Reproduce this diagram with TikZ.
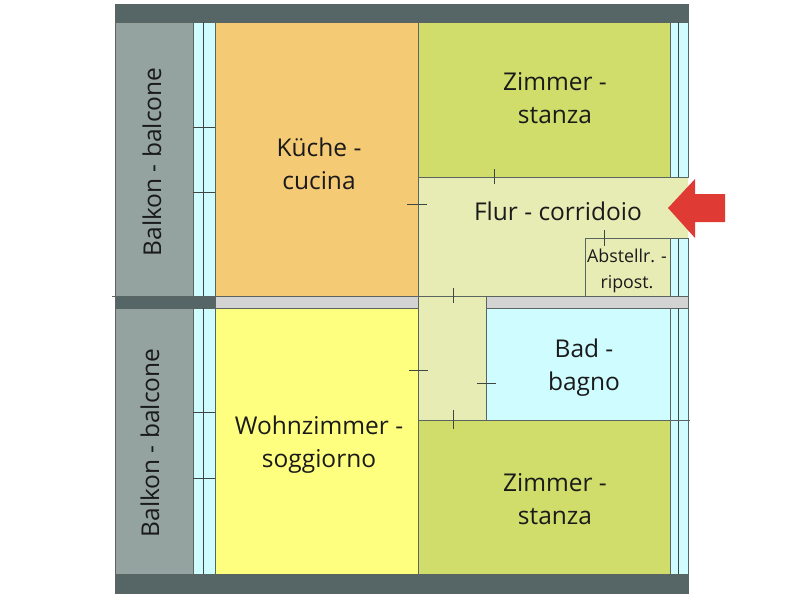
\documentclass[tikz,border=0pt]{standalone}
\usepackage{fontspec}
\setmainfont{Open Sans}
\definecolor{wallDark}{HTML}{566666}
\definecolor{wallGrey}{HTML}{D3D3D3}
\definecolor{balconyGrey}{HTML}{94A3A0}
\definecolor{glassBlue}{HTML}{CFFCFF}
\definecolor{kitchenOrange}{HTML}{F5CA75}
\definecolor{livingYellow}{HTML}{FFFF7F}
\definecolor{roomGreen}{HTML}{D0DD6A}
\definecolor{hallPale}{HTML}{E6ECB3}
\definecolor{arrowRed}{HTML}{E03A35}
\definecolor{lineGrey}{HTML}{5A6562}
\definecolor{labelDark}{HTML}{1A1A1A}
\begin{document}
\begin{tikzpicture}[x=1pt,y=-1pt]

    \tikzset{
      room/.style={
        draw=lineGrey,
        line width=0.9pt,
      },
      tick/.style={
        draw=lineGrey!70!black,
        line width=0.9pt,
      },
      roomlabel/.style={
        anchor=center,
        align=center,
        inner sep=0pt,
        text=labelDark,
        font=\fontsize{24.5}{33}\selectfont,
      },
      smalllabel/.style={
        roomlabel,
        font=\fontsize{17.8}{26}\selectfont,
      },
    }
    \useasboundingbox (0,0) rectangle (800,600);
    % walls
	\draw[room,fill=wallDark] (115,4) rectangle (688,22);
	\draw[room,fill=wallDark] (115,574) rectangle (688,593);
	\draw[room,fill=wallDark] (115,296) rectangle (215,308);
	\draw[room,fill=wallGrey] (215,296) rectangle (688,308);
    % balconies and window strips
	\draw[room,fill=balconyGrey] (115,22) rectangle (193,296);
	\draw[room,fill=balconyGrey] (115,308) rectangle (193,574);
	\draw[room,fill=glassBlue] (193,22) rectangle (215,296);
	\draw[room,fill=glassBlue] (193,308) rectangle (215,574);
	\draw[room,fill=glassBlue] (670,22) rectangle (688,177);
	\draw[room,fill=glassBlue] (670,238) rectangle (688,296);
	\draw[room,fill=glassBlue] (670,308) rectangle (688,574);
	\foreach \stripx/\ya/\yb in {203/22/296,203/308/574,678/22/177,678/238/296,678/308/574}
	  \draw[tick] (\stripx,\ya)--(\stripx,\yb);
	\foreach \stripy in {127,192,412,478}
	  \draw[tick] (193,\stripy)--(215,\stripy);
    % rooms
	\draw[room,fill=kitchenOrange] (215,22) rectangle (418,296);
	\draw[room,fill=livingYellow] (215,308) rectangle (418,574);
	\draw[room,fill=roomGreen] (418,22) rectangle (670,177);
	\draw[room,fill=roomGreen] (418,420) rectangle (670,574);
	\draw[room,fill=glassBlue] (486,308) rectangle (670,420);
	\fill[hallPale] (418,177)--(688,177)--(688,238)--(670,238)--(670,296)--(486,296)--(486,420)--(418,420)--cycle;
	\draw[room] (688,177)--(418,177)--(418,420)--(486,420)--(486,296);
	\draw[room] (418,296)--(670,296);
	\draw[room] (585,296)--(585,238)--(688,238);
	\draw[room] (670,238)--(670,296);
	\draw[room] (670,420)--(690,420);
	\draw[room] (112,296)--(115,296);
    % door marks
	\foreach \xa/\ya/\xb/\yb in {407/204/427/204,494/169/494/184,604/230/604/246,453/288/453/303,409/370/428/370,477/383/496/383,453/410/453/429}
	  \draw[tick] (\xa,\ya)--(\xb,\yb);
    % entrance arrow
	\draw[fill=arrowRed,draw=none] (668,208)--(695,179)--(695,194)--(725,194)--(725,222)--(695,222)--(695,238)--cycle;
    % labels
	\node[roomlabel,rotate=90] (balconyTop) at (152,162) {Balkon - balcone};
	\node[roomlabel,rotate=90] (balconyBottom) at (150,443) {Balkon - balcone};
	\node[roomlabel] (kitchen) at (319,164) {Küche -\\cucina};
	\node[roomlabel] (roomTop) at (555,98) {Zimmer -\\stanza};
	\node[roomlabel] (hall) at (558,211) {Flur - corridoio};
	\node[smalllabel] (storage) at (627,271) {Abstellr. -\\ripost.};
	\node[roomlabel] (bath) at (584,368) {Bad -\\bagno};
	\node[roomlabel] (living) at (319,445) {Wohnzimmer -\\soggiorno};
	\node[roomlabel] (roomBottom) at (555,499) {Zimmer -\\stanza};

\end{tikzpicture}
\end{document}
